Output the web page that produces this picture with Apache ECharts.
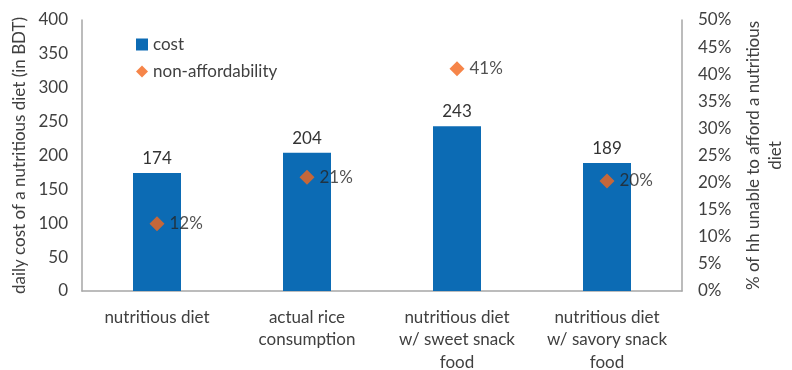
<!DOCTYPE html>
<html>
<head>
<meta charset="utf-8">
<script src="https://cdn.jsdelivr.net/npm/echarts@6/dist/echarts.min.js"></script>
<style>
  html, body { margin: 0; padding: 0; background: #fff; }
  #chart { width: 792px; height: 370px; }
</style>
</head>
<body>
<div id="chart"></div>
<script>
// Diet scenarios on the category axis
const categories = [
  'nutritious diet',
  'actual rice\nconsumption',
  'nutritious diet\nw/ sweet snack\nfood',
  'nutritious diet\nw/ savory snack\nfood'
];
// Daily cost of a nutritious diet, BDT
const costValues = [174, 204, 243, 189];
// Share of households unable to afford it, %
const nonAffordValues = [12.4, 21, 41, 20.3];
const nonAffordLabels = ['12%', '21%', '41%', '20%'];

const FONT = 'Lato, "Noto Sans", sans-serif';
const FS = 17;
const TEXT = '#404040';
const AXIS = '#a6a6a6';

const chart = echarts.init(document.getElementById('chart'), null, { renderer: 'canvas' });
chart.setOption({
  animation: false,
  textStyle: { fontFamily: FONT, color: TEXT },
  grid: { left: 82, right: 110, top: 20, bottom: 79, containLabel: false, outerBoundsMode: 'none' },
  legend: {
    orient: 'vertical',
    left: 131,
    top: 31,
    itemGap: 10,
    itemWidth: 12,
    itemHeight: 12,
    textStyle: { fontFamily: FONT, fontSize: FS, color: TEXT },
    data: [
      { name: 'cost', icon: 'rect' },
      { name: 'non-affordability', icon: 'diamond' }
    ]
  },
  xAxis: {
    type: 'category',
    data: categories,
    axisLine: { lineStyle: { color: AXIS, width: 1.5 } },
    axisTick: { show: false },
    axisLabel: { fontFamily: FONT, fontSize: FS, color: TEXT, margin: 15, lineHeight: 22.5, interval: 0 }
  },
  yAxis: [
    {
      type: 'value',
      min: 0, max: 400, interval: 50,
      name: 'daily cost of a nutritious diet (in BDT)',
      nameLocation: 'middle',
      nameRotate: 90,
      nameGap: 52,
      nameTextStyle: { fontFamily: FONT, fontSize: FS, color: TEXT },
      axisLine: { show: true, lineStyle: { color: AXIS, width: 1.5 } },
      axisTick: { show: false },
      splitLine: { show: false },
      axisLabel: { fontFamily: FONT, fontSize: FS, color: TEXT, margin: 14 }
    },
    {
      type: 'value',
      min: 0, max: 50, interval: 5,
      position: 'right',
      name: '% of hh unable to afford a nutritious\ndiet',
      nameLocation: 'middle',
      nameRotate: 90,
      nameGap: 58,
      nameTextStyle: { fontFamily: FONT, fontSize: FS, color: TEXT, lineHeight: 22 },
      axisLine: { show: true, lineStyle: { color: AXIS, width: 1.5 } },
      axisTick: { show: false },
      splitLine: { show: false },
      axisLabel: { fontFamily: FONT, fontSize: FS, color: TEXT, margin: 16, formatter: '{value}%' }
    }
  ],
  series: [
    {
      name: 'cost',
      type: 'bar',
      data: costValues,
      barWidth: 48,
      itemStyle: { color: '#0c6bb4' },
      label: { show: true, position: 'top', distance: 6, fontFamily: FONT, fontSize: FS, color: '#333' }
    },
    {
      name: 'non-affordability',
      type: 'scatter',
      yAxisIndex: 1,
      data: nonAffordValues,
      symbol: 'diamond',
      symbolSize: 15,
      itemStyle: { color: '#f4661b' },
      label: {
        show: true, position: 'right', distance: 5,
        fontFamily: FONT, fontSize: FS, color: '#262626',
        formatter: p => nonAffordLabels[p.dataIndex]
      }
    }
  ]
});
</script>
</body>
</html>
